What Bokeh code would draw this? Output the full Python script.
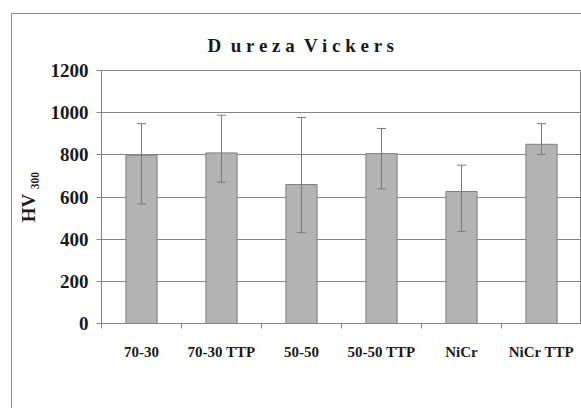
from bokeh.plotting import figure
from bokeh.models import (ColumnDataSource, Whisker, TeeHead, FixedTicker,
                          Range1d, Title)
from bokeh.embed import file_html
from bokeh.resources import INLINE

# ---- data ----
categories = ["70-30", "70-30 TTP", "50-50", "50-50 TTP", "NiCr", "NiCr TTP"]
hv_values = [798, 809, 659, 806, 626, 850]
err_upper = [948, 988, 977, 925, 751, 948]
err_lower = [567, 670, 431, 639, 437, 802]
y_ticks = [0, 200, 400, 600, 800, 1000, 1200]

xs = [i + 0.5 for i in range(len(categories))]
src = ColumnDataSource(dict(x=xs, top=hv_values, upper=err_upper, lower=err_lower))

SERIF = "Liberation Serif"
TXT = "#1a1a1a"
GRAY = "#858585"

p = figure(width=569, height=394, output_backend="svg", toolbar_location=None,
           x_range=Range1d(0, len(categories)), y_range=Range1d(0, 1200),
           min_border_left=89, min_border_right=0, min_border_top=56,
           min_border_bottom=85, title=None)
p.margin = (14, 0, 0, 12)
p.styles = {"outline": "1.5px solid #8a8a8a"}
p.background_fill_color = "white"
p.border_fill_color = "white"
p.outline_line_color = GRAY
p.outline_line_width = 1

t = Title(text="D\u00a0 u r e z a\u00a0 V i c k e r s", align="left", offset=106,
          text_font=SERIF, text_font_size="19px", text_font_style="bold",
          text_color=TXT, standoff=30)
p.add_layout(t, "above")

p.vbar(x="x", top="top", width=0.39, bottom=0, source=src,
       fill_color="#b3b3b3", line_color="#7f7f7f", line_width=1)

w = Whisker(base="x", upper="upper", lower="lower", source=src,
            line_color="#7a7a7a", line_width=1, level="annotation",
            upper_head=TeeHead(size=9, line_color="#7a7a7a", line_width=1),
            lower_head=TeeHead(size=9, line_color="#7a7a7a", line_width=1))
p.add_layout(w)

# x axis: ticks at category boundaries, labels at centres
xa = p.xaxis[0]
xa.ticker = FixedTicker(ticks=xs, minor_ticks=list(range(len(categories) + 1)))
xa.major_label_overrides = {x: c for x, c in zip(xs, categories)}
xa.major_tick_out = 0
xa.major_tick_in = 0
xa.minor_tick_out = 5
xa.minor_tick_in = 0
xa.minor_tick_line_color = GRAY
xa.axis_line_color = GRAY
xa.major_label_text_font = SERIF
xa.major_label_text_font_size = "15px"
xa.major_label_text_font_style = "bold"
xa.major_label_text_color = TXT
xa.major_label_standoff = 15

ya = p.yaxis[0]
ya.ticker = FixedTicker(ticks=y_ticks, minor_ticks=[])
ya.major_tick_out = 5
ya.major_tick_in = 0
ya.major_tick_line_color = GRAY
ya.axis_line_color = GRAY
ya.major_label_text_font = SERIF
ya.major_label_text_font_size = "19px"
ya.major_label_text_font_style = "bold"
ya.major_label_text_color = TXT
ya.major_label_standoff = 8
ya.axis_label = "HV \u2083\u2080\u2080"
ya.axis_label_text_font = SERIF
ya.axis_label_text_font_size = "19px"
ya.axis_label_text_font_style = "bold"
ya.axis_label_text_color = TXT
ya.axis_label_standoff = 9

p.xgrid.grid_line_color = None
p.ygrid.grid_line_color = GRAY
p.ygrid.grid_line_width = 1

open("out.html", "w").write(file_html(p, INLINE))
